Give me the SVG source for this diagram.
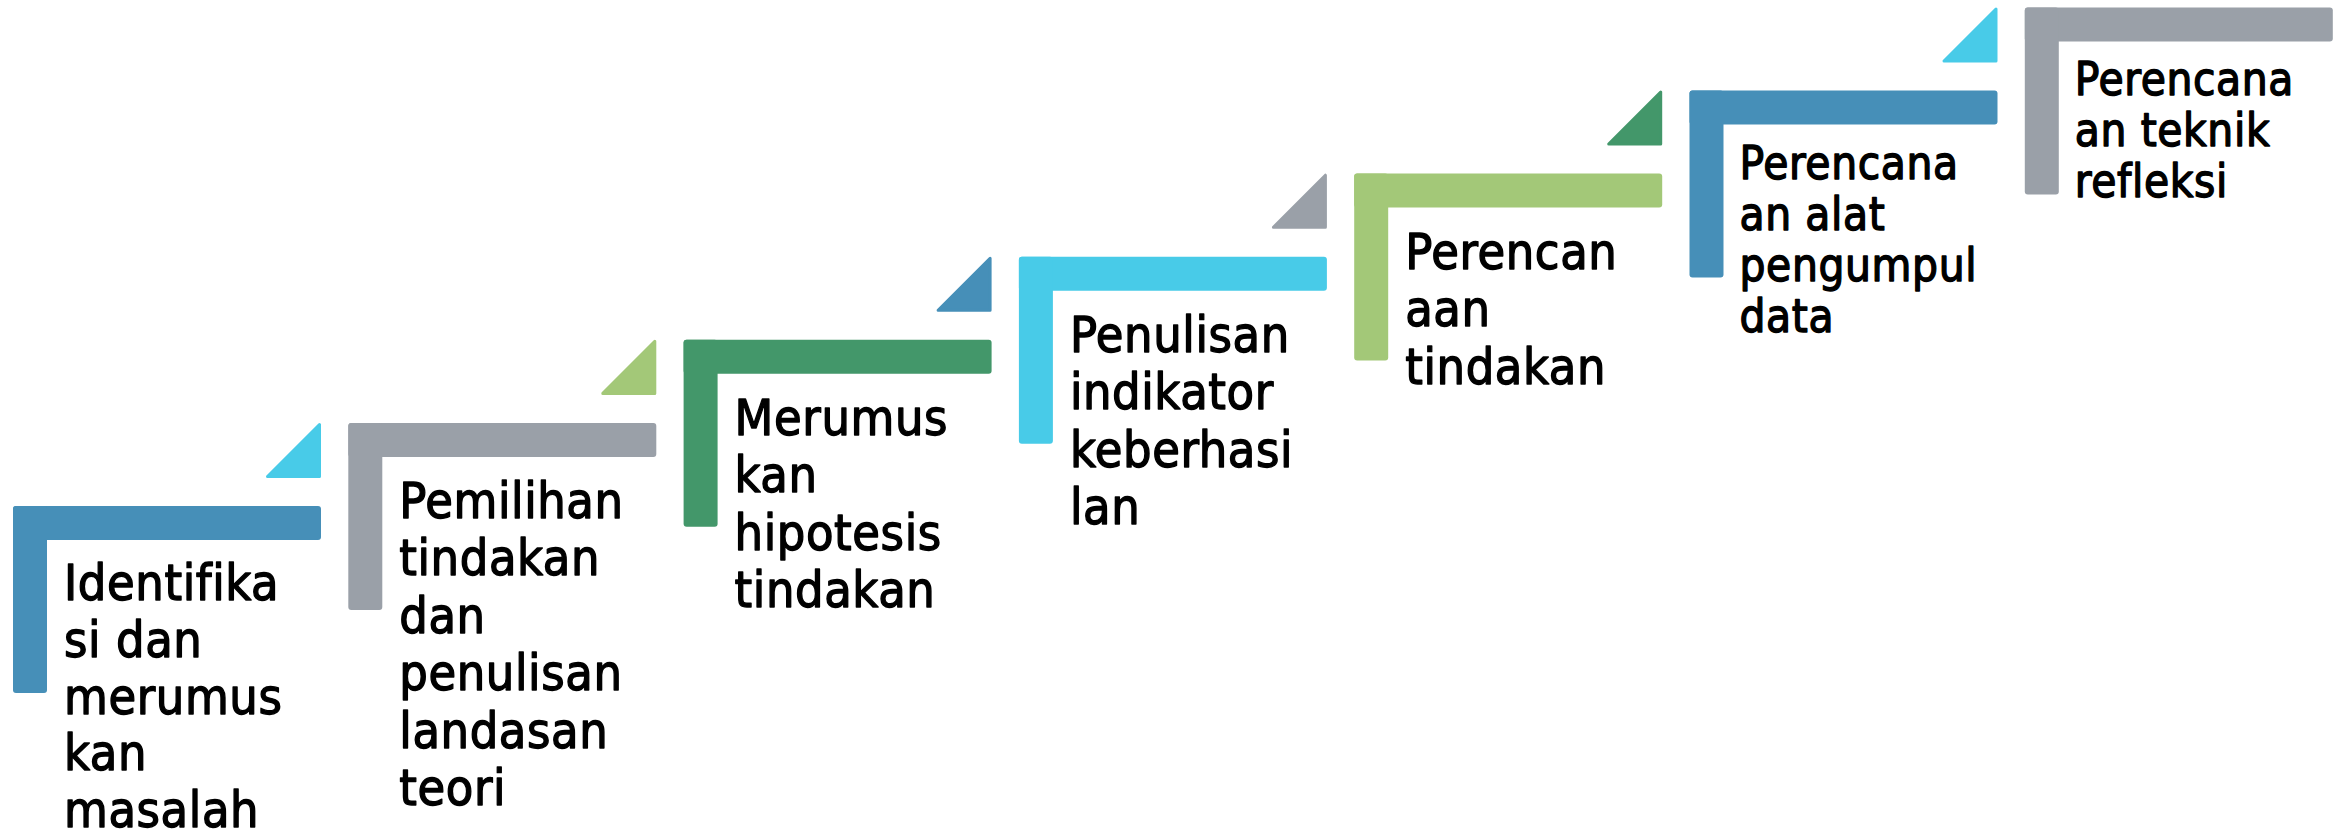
<svg xmlns="http://www.w3.org/2000/svg" width="2348" height="833" viewBox="0 0 2348 833">
<style>
.t{font-family:"DejaVu Sans Condensed","DejaVu Sans","Liberation Sans",sans-serif;font-stretch:condensed;fill:#000;stroke:#000;stroke-width:1.3px;stroke-linejoin:round;letter-spacing:0.6px}
.lg{font-size:50px}
.sm{font-size:45.5px}
.blue{fill:#468FB8}
.gray{fill:#9AA0A8}
.dg{fill:#43976A}
.cy{fill:#48CBE8}
.lgn{fill:#A3C878}
.tri{stroke-width:3;stroke-linejoin:round}
.tri.cy{stroke:#48CBE8}.tri.lgn{stroke:#A3C878}.tri.blue{stroke:#468FB8}.tri.gray{stroke:#9AA0A8}.tri.dg{stroke:#43976A}
</style>
<rect width="2348" height="833" fill="#fff"/>
<g id="connectors">
<polygon class="tri cy" points="267.5,476.5 319.5,424.5 319.5,476.5"/>
<polygon class="tri lgn" points="602.8,393.4 654.8,341.4 654.8,393.4"/>
<polygon class="tri blue" points="938.1,310.3 990.1,258.3 990.1,310.3"/>
<polygon class="tri gray" points="1273.4,227.2 1325.4,175.2 1325.4,227.2"/>
<polygon class="tri dg" points="1608.7,144.1 1660.7,92.1 1660.7,144.1"/>
<polygon class="tri cy" points="1944,61 1996,9 1996,61"/>
</g>
<g id="step1">
<rect class="blue" x="13" y="506" width="308" height="34" rx="3"/>
<rect class="blue" x="13" y="506" width="34" height="187" rx="3"/>
<text class="t lg" x="64" y="600"><tspan x="64">Identifika</tspan><tspan x="64" dy="56.8">si dan</tspan><tspan x="64" dy="56.8">merumus</tspan><tspan x="64" dy="56.8">kan</tspan><tspan x="64" dy="56.8">masalah</tspan></text>
</g>
<g id="step2">
<rect class="gray" x="348.3" y="422.9" width="308" height="34" rx="3"/>
<rect class="gray" x="348.3" y="422.9" width="34" height="187" rx="3"/>
<text class="t lg" x="399.3" y="517.9"><tspan x="399.3">Pemilihan</tspan><tspan x="399.3" dy="57.5">tindakan</tspan><tspan x="399.3" dy="57.5">dan</tspan><tspan x="399.3" dy="57.5">penulisan</tspan><tspan x="399.3" dy="57.5">landasan</tspan><tspan x="399.3" dy="57.5">teori</tspan></text>
</g>
<g id="step3">
<rect class="dg" x="683.6" y="339.8" width="308" height="34" rx="3"/>
<rect class="dg" x="683.6" y="339.8" width="34" height="187" rx="3"/>
<text class="t lg" x="734.6" y="434.8"><tspan x="734.6">Merumus</tspan><tspan x="734.6" dy="57.5">kan</tspan><tspan x="734.6" dy="57.5">hipotesis</tspan><tspan x="734.6" dy="57.5">tindakan</tspan></text>
</g>
<g id="step4">
<rect class="cy" x="1018.9" y="256.7" width="308" height="34" rx="3"/>
<rect class="cy" x="1018.9" y="256.7" width="34" height="187" rx="3"/>
<text class="t lg" x="1069.9" y="351.7"><tspan x="1069.9">Penulisan</tspan><tspan x="1069.9" dy="57.5">indikator</tspan><tspan x="1069.9" dy="57.5">keberhasi</tspan><tspan x="1069.9" dy="57.5">lan</tspan></text>
</g>
<g id="step5">
<rect class="lgn" x="1354.2" y="173.6" width="308" height="34" rx="3"/>
<rect class="lgn" x="1354.2" y="173.6" width="34" height="187" rx="3"/>
<text class="t lg" x="1405.2" y="268.6"><tspan x="1405.2">Perencan</tspan><tspan x="1405.2" dy="57.5">aan</tspan><tspan x="1405.2" dy="57.5">tindakan</tspan></text>
</g>
<g id="step6">
<rect class="blue" x="1689.5" y="90.5" width="308" height="34" rx="3"/>
<rect class="blue" x="1689.5" y="90.5" width="34" height="187" rx="3"/>
<text class="t sm" x="1739.5" y="178.5"><tspan x="1739.5">Perencana</tspan><tspan x="1739.5" dy="51">an alat</tspan><tspan x="1739.5" dy="51">pengumpul</tspan><tspan x="1739.5" dy="51">data</tspan></text>
</g>
<g id="step7">
<rect class="gray" x="2024.8" y="7.4" width="308" height="34" rx="3"/>
<rect class="gray" x="2024.8" y="7.4" width="34" height="187" rx="3"/>
<text class="t sm" x="2074.8" y="95.4"><tspan x="2074.8">Perencana</tspan><tspan x="2074.8" dy="51">an teknik</tspan><tspan x="2074.8" dy="51">refleksi</tspan></text>
</g>
</svg>
